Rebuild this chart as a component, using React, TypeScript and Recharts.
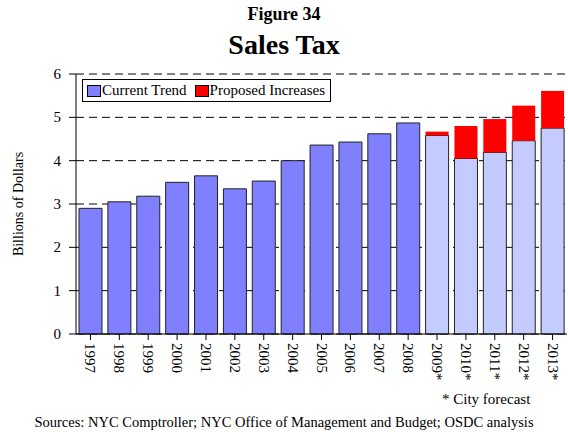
import { BarChart, Bar, Cell, XAxis, YAxis, CartesianGrid } from 'recharts'

const years = ['1997','1998','1999','2000','2001','2002','2003','2004','2005','2006','2007','2008','2009*','2010*','2011*','2012*','2013*']
const currentTrend = [2.9, 3.05, 3.18, 3.5, 3.65, 3.35, 3.53, 4.0, 4.36, 4.43, 4.62, 4.87, 4.58, 4.05, 4.19, 4.46, 4.75]
const proposedIncreases = [0, 0, 0, 0, 0, 0, 0, 0, 0, 0, 0, 0, 0.09, 0.75, 0.77, 0.81, 0.86]
const yTicks = [0, 1, 2, 3, 4, 5, 6]

const data = years.map((y, i) => ({ year: y, current: currentTrend[i], proposed: proposedIncreases[i] }))

const FONT = "'Liberation Serif','Times New Roman',serif"

function YearTick({ x, y, payload }: any) {
  return (
    <text x={x} y={y + 1} transform={`rotate(90, ${x}, ${y + 1})`} textAnchor="start"
      dominantBaseline="central" fontFamily={FONT} fontSize={15} fill="#000">
      {payload.value}
    </text>
  )
}

function NumTick({ x, y, payload }: any) {
  return (
    <text x={x - 6} y={y} textAnchor="end" dominantBaseline="central" fontFamily={FONT} fontSize={15} fill="#000">
      {payload.value}
    </text>
  )
}

export default function App() {
  return (
    <div style={{ position: 'absolute', left: 0, top: 0, width: 568, height: 432, background: '#fff', fontFamily: FONT, color: '#000' }}>
      <div style={{ position: 'absolute', left: 0, width: 568, top: 3, textAlign: 'center', fontWeight: 'bold', fontSize: 18, lineHeight: '22px' }}>Figure 34</div>
      <div style={{ position: 'absolute', left: 0, width: 568, top: 28, textAlign: 'center', fontWeight: 'bold', fontSize: 28, lineHeight: '34px' }}>Sales Tax</div>
      <BarChart width={568} height={432} data={data} margin={{ top: 74, right: 1, bottom: 38, left: 0 }} barCategoryGap={3}>
        <CartesianGrid vertical={false} stroke="#000" strokeDasharray="8 5" />
        <XAxis dataKey="year" interval={0} height={60} tick={<YearTick />} tickLine={{ stroke: '#000' }} tickSize={6} axisLine={{ stroke: '#000' }} />
        <YAxis width={76} domain={[0, 6]} ticks={yTicks} tickSize={7} tickLine={{ stroke: '#000' }} axisLine={{ stroke: '#000' }}
          tick={<NumTick />} />
        <Bar dataKey="current" stackId="a" stroke="#222" strokeWidth={1} isAnimationActive={false}>
          {data.map((d, i) => <Cell key={i} fill={d.year.endsWith('*') ? '#c4cbff' : '#8080ff'} />)}
        </Bar>
        <Bar dataKey="proposed" stackId="a" fill="#ff0000" isAnimationActive={false} />
      </BarChart>
      <div style={{ position: 'absolute', left: 82, top: 79, width: 249, height: 23, border: '1px solid #000', background: '#fff', display: 'flex', alignItems: 'center', fontSize: 15, boxSizing: 'border-box', whiteSpace: 'nowrap' }}>
        <span style={{ width: 12, height: 10, background: '#8080ff', border: '1px solid #000', marginLeft: 4, marginRight: 1 }} />
        <span>Current Trend</span>
        <span style={{ width: 12, height: 10, background: '#ff0000', border: '1px solid #000', marginLeft: 8, marginRight: 1 }} />
        <span>Proposed Increases</span>
      </div>
      <div style={{ position: 'absolute', left: 19, top: 204, width: 0, height: 0 }}>
        <div style={{ position: 'absolute', transform: 'translate(-50%, -50%) rotate(-90deg)', whiteSpace: 'nowrap', fontSize: 14, lineHeight: '16px' }}>Billions of Dollars</div>
      </div>
      <div style={{ position: 'absolute', left: 442, top: 390, fontSize: 15, lineHeight: '18px', whiteSpace: 'nowrap' }}>* City forecast</div>
      <div style={{ position: 'absolute', left: 0, width: 568, top: 413, textAlign: 'center', fontSize: 14.5, lineHeight: '18px', whiteSpace: 'nowrap' }}>Sources: NYC Comptroller; NYC Office of Management and Budget; OSDC analysis</div>
    </div>
  )
}
